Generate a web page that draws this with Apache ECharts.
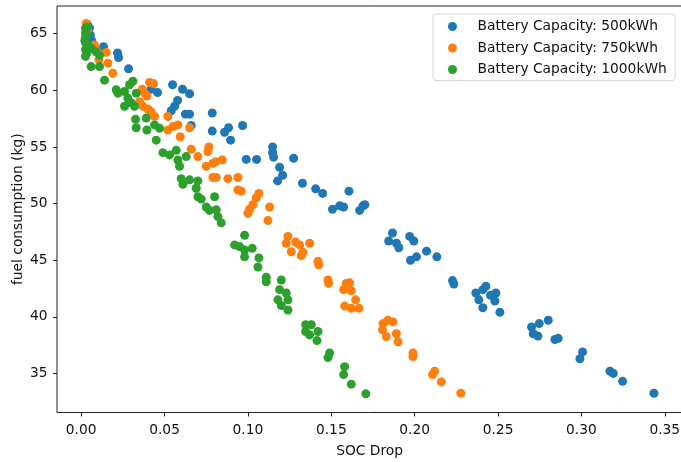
<!DOCTYPE html>
<html>
<head>
<meta charset="utf-8">
<script src="https://cdn.jsdelivr.net/npm/echarts@6/dist/echarts.min.js"></script>
<style>
  html, body { margin: 0; padding: 0; background: #fff; }
  #chart { width: 681px; height: 462px; }
</style>
</head>
<body>
<div id="chart"></div>
<script>
// [SOC drop, fuel consumption (kg)] per battery size
const points500 = [
  [0.0038,65.8],[0.005,65.5],[0.0055,64.9],[0.0062,64.4],[0.0134,63.85],[0.0218,63.3],[0.0224,62.9],[0.0284,61.9],
  [0.042,60.1],[0.0458,59.8],[0.0548,60.5],[0.0608,60.1],[0.065,59.7],[0.0578,59.1],[0.056,58.6],[0.054,58.2],
  [0.0625,57.9],[0.065,57.9],[0.066,56.9],
  [0.0786,58.0],[0.0786,56.4],[0.086,56.3],[0.0884,56.7],[0.0896,55.6],[0.0968,56.9],
  [0.1148,55.0],[0.1148,54.5],[0.1154,54.1],[0.099,53.9],[0.1052,53.9],[0.1274,54.0],[0.119,53.2],[0.1208,52.5],
  [0.1178,52.0],[0.1327,51.8],[0.1406,51.3],[0.1448,50.9],[0.1606,51.1],[0.1507,49.5],[0.155,49.8],[0.1574,49.7],
  [0.167,49.4],[0.169,49.8],[0.1701,49.9],
  [0.1867,47.4],[0.1844,46.7],[0.1891,46.5],[0.1905,46.1],[0.197,47.1],[0.1995,46.7],[0.1975,45.0],[0.2011,45.3],
  [0.2071,45.8],[0.2133,45.3],
  [0.2227,43.2],[0.2235,42.9],
  [0.2367,42.1],[0.2385,41.5],[0.2409,42.4],[0.2427,42.7],[0.2455,41.9],[0.2487,42.1],[0.2481,41.4],[0.2409,40.8],[0.2511,40.4],
  [0.2701,39.1],[0.2711,38.5],[0.2747,39.4],[0.2739,38.3],[0.2801,39.7],[0.2841,38.0],[0.2861,38.1],
  [0.3007,36.9],[0.2991,36.3],[0.3171,35.2],[0.3191,35.0],[0.3247,34.3],[0.3435,33.25]
];

const points750 = [
  [0.003,65.9],[0.004,65.35],[0.008,64.0],[0.009,63.6],[0.0106,62.7],[0.015,63.35],[0.016,62.4],[0.019,61.5],
  [0.041,60.7],[0.0434,60.6],[0.0366,60.1],[0.038,59.75],[0.0394,59.5],[0.035,59.0],[0.037,58.6],[0.040,58.35],
  [0.042,58.1],[0.044,57.7],[0.052,57.7],[0.058,56.95],[0.055,56.8],[0.052,56.5],[0.0594,55.9],[0.065,56.7],
  [0.066,54.8],[0.070,54.15],
  [0.0766,55.0],[0.076,54.6],[0.079,53.55],[0.075,53.3],[0.0806,53.7],[0.0846,53.85],[0.079,52.3],[0.081,52.3],
  [0.088,52.2],[0.094,52.3],[0.094,51.2],[0.096,51.1],[0.1066,50.9],[0.105,50.5],[0.103,49.9],[0.101,49.5],
  [0.100,49.15],[0.113,49.7],[0.112,48.5],
  [0.124,47.1],[0.123,46.5],[0.126,45.75],[0.1286,46.6],[0.131,46.35],[0.133,45.7],[0.132,45.4],[0.137,46.5],
  [0.142,44.9],[0.1424,44.6],[0.148,43.25],[0.1484,42.95],[0.159,42.95],[0.161,43.0],[0.1574,42.4],[0.162,42.3],
  [0.1646,41.5],[0.162,40.75],[0.158,40.95],[0.1666,40.75],
  [0.181,39.4],[0.184,39.7],[0.187,39.55],[0.1807,38.85],[0.183,38.25],[0.189,38.5],[0.190,37.8],
  [0.199,36.8],[0.199,36.5],[0.2107,34.9],[0.212,35.2],[0.216,34.25],[0.2277,33.25]
];

const points1000 = [
  [0.0026,65.5],[0.0038,65.6],[0.0026,65.1],[0.0034,64.9],[0.0026,64.7],[0.0022,64.4],[0.0026,64.2],[0.0038,64.0],
  [0.0026,63.6],[0.0034,63.3],[0.0026,63.0],[0.006,63.7],[0.009,63.4],[0.011,63.1],[0.006,62.1],[0.011,62.1],[0.014,60.9],
  [0.021,60.05],[0.022,59.75],[0.026,59.9],[0.029,60.5],[0.031,60.8],[0.028,59.3],[0.033,59.75],[0.026,58.6],
  [0.030,58.9],[0.032,58.6],[0.0326,57.45],[0.033,56.7],[0.039,57.55],[0.0394,56.5],[0.044,56.95],[0.047,56.65],
  [0.045,55.6],[0.049,54.5],[0.053,54.3],[0.057,54.7],[0.058,53.85],[0.059,53.3],[0.063,54.15],[0.060,52.2],
  [0.065,52.1],[0.061,51.7],[0.070,52.0],[0.069,51.35],[0.070,50.6],[0.072,50.4],[0.080,50.6],[0.075,49.7],
  [0.077,49.4],[0.081,49.45],[0.082,48.85],[0.084,48.3],
  [0.098,47.2],[0.092,46.35],[0.095,46.2],[0.098,45.9],[0.1026,46.05],[0.098,45.3],[0.1066,45.2],[0.106,44.4],
  [0.111,43.5],[0.111,43.1],[0.120,43.25],[0.119,42.4],[0.123,42.1],[0.118,41.5],[0.124,41.5],[0.120,41.0],
  [0.124,40.6],[0.1346,39.3],[0.138,39.3],[0.1346,38.7],[0.137,38.4],[0.142,38.7],[0.1414,37.9],
  [0.149,36.8],[0.148,36.4],[0.158,35.6],[0.1574,34.9],[0.162,34.05],[0.1707,33.2]
];

const seriesNames = ['Battery Capacity: 500kWh', 'Battery Capacity: 750kWh', 'Battery Capacity: 1000kWh'];
const xTicks = [0, 0.05, 0.10, 0.15, 0.20, 0.25, 0.30, 0.35];
const yTicks = [35, 40, 45, 50, 55, 60, 65];

const FONT = 'DejaVu Sans';
const INK = '#111';
const colors = ['#1f77b4', '#ff7f0e', '#2ca02c'];

const chart = echarts.init(document.getElementById('chart'), null, { renderer: 'canvas' });

function scatter(name, data, color) {
  return {
    name, type: 'scatter', data,
    symbol: 'circle', symbolSize: 9,
    itemStyle: { color, opacity: 1 },
    emphasis: { disabled: true },
    animation: false
  };
}

chart.setOption({
  animation: false,
  backgroundColor: '#fff',
  grid: {
    left: 57, top: 6, right: -1.3, bottom: 49.5,
    outerBoundsMode: 'none',
    containLabel: false,
    show: true, borderColor: '#222', borderWidth: 1, backgroundColor: 'transparent'
  },
  // legend frame
  graphic: [{
    type: 'rect', z: 5,
    shape: { x: 433, y: 14, width: 242, height: 66.5, r: 3 },
    style: { fill: 'rgba(255,255,255,0.8)', stroke: '#d6d6d6', lineWidth: 1 }
  }],
  legend: {
    orient: 'vertical',
    left: 448, top: 19.5,
    padding: 0,
    itemWidth: 40, itemHeight: 9, itemGap: 7.5,
    icon: 'circle',
    z: 10,
    textStyle: { fontFamily: FONT, fontSize: 13.8, color: INK, lineHeight: 14 },
    data: seriesNames
  },
  xAxis: {
    type: 'value',
    min: -0.0145, max: 0.3605,
    name: 'SOC Drop', nameLocation: 'middle', nameGap: 32,
    nameTextStyle: { fontFamily: FONT, fontSize: 13.8, color: INK },
    axisLine: { show: false, onZero: false },
    splitLine: { show: false },
    axisTick: { show: true, inside: false, length: 4, customValues: xTicks, lineStyle: { color: '#222', width: 1 } },
    axisLabel: {
      customValues: xTicks, margin: 11,
      fontFamily: FONT, fontSize: 13.8, color: INK,
      formatter: v => v.toFixed(2)
    }
  },
  yAxis: {
    type: 'value',
    min: 31.55, max: 67.45,
    name: 'fuel consumption (kg)', nameLocation: 'middle', nameGap: 32,
    nameMoveOverlap: false,
    nameTextStyle: { fontFamily: FONT, fontSize: 13.8, color: INK },
    axisLine: { show: false, onZero: false },
    splitLine: { show: false },
    axisTick: { show: true, inside: false, length: 4, customValues: yTicks, lineStyle: { color: '#222', width: 1 } },
    axisLabel: {
      customValues: yTicks, margin: 9.5,
      fontFamily: FONT, fontSize: 13.8, color: INK,
      formatter: v => String(v)
    }
  },
  series: [
    scatter(seriesNames[0], points500, colors[0]),
    scatter(seriesNames[1], points750, colors[1]),
    scatter(seriesNames[2], points1000, colors[2])
  ]
});
</script>
</body>
</html>
